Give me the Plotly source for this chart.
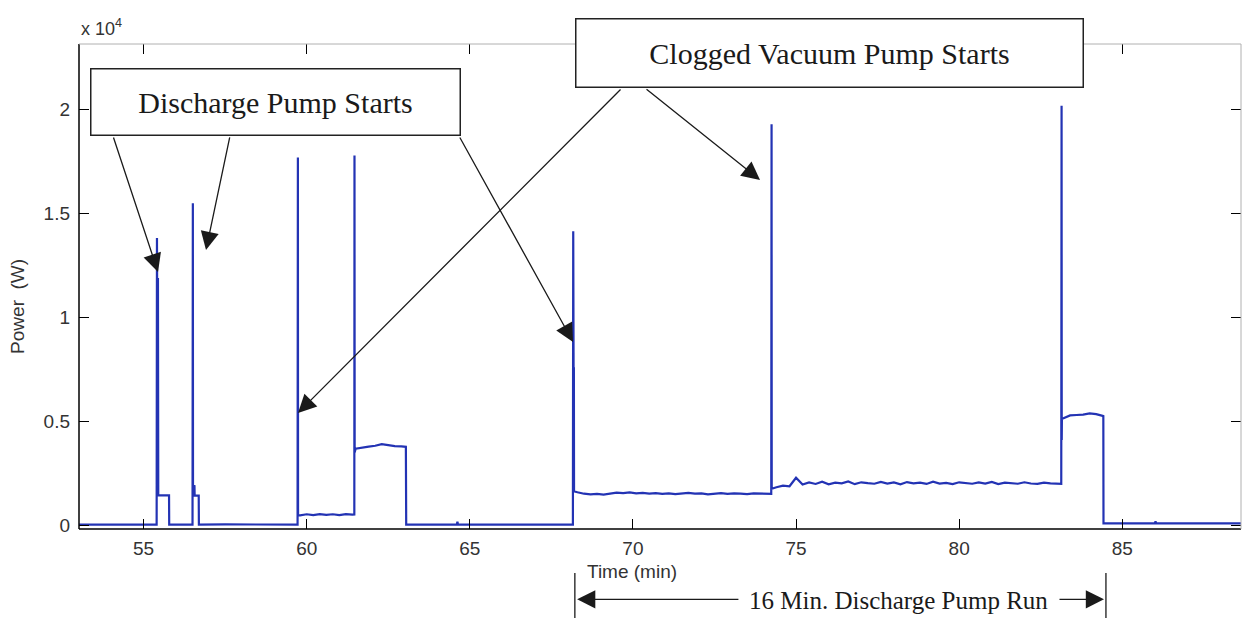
import plotly.graph_objects as go

# ---- measured power trace (time in minutes, power in watts) ----
start_t = [53.02, 55.40, 55.41, 55.415, 55.42, 55.425, 55.43, 55.435, 55.44, 55.445,
           55.45, 55.78, 55.785, 56.50, 56.51, 56.515, 56.56, 56.565, 56.69, 56.695,
           57.50, 59.72, 59.73, 59.735]
start_p = [20, 20, 13830, 1430, 12600, 1450, 12300, 1420, 11900, 1440,
           1430, 1430, 20, 20, 15500, 1900, 1880, 1420, 1420, 20,
           30, 20, 17700, 480]

low_run_t = [59.8, 60.0, 60.2, 60.4, 60.6, 60.8, 61.0, 61.2, 61.4, 61.46]
low_run_p = [470, 520, 480, 530, 490, 520, 480, 530, 500, 510]

mid_run_t = [61.465, 61.47, 61.5, 61.7, 61.9, 62.1, 62.3, 62.5, 62.7, 62.9, 63.04,
             63.05, 64.60, 64.62, 64.64, 68.16]
mid_run_p = [17800, 3500, 3680, 3740, 3780, 3820, 3900, 3850, 3800, 3790, 3770,
             20, 20, 160, 20, 20]

clog_start_t = [68.17, 68.175, 68.18, 68.185, 68.19, 68.195, 68.20, 68.205]
clog_start_p = [14150, 1600, 8300, 1650, 7600, 1600, 6900, 1620]

run_a_t = [68.3, 68.5, 68.7, 68.9, 69.1, 69.3, 69.5, 69.7, 69.9, 70.1,
           70.3, 70.5, 70.7, 70.9, 71.1, 71.3, 71.5, 71.7, 71.9, 72.1,
           72.3, 72.5, 72.7, 72.9, 73.1, 73.3, 73.5, 73.7, 73.9, 74.1, 74.24]
run_a_p = [1580, 1510, 1480, 1500, 1470, 1520, 1560, 1540, 1570, 1530,
           1550, 1510, 1540, 1500, 1530, 1490, 1520, 1550, 1510, 1530,
           1480, 1520, 1540, 1500, 1530, 1510, 1490, 1530, 1510, 1500, 1500]

run_b_t = [74.25, 74.255, 74.4, 74.6, 74.8, 75.0, 75.2, 75.4, 75.6, 75.8, 76.0,
           76.2, 76.4, 76.6, 76.8, 77.0, 77.2, 77.4, 77.6, 77.8, 78.0,
           78.2, 78.4, 78.6, 78.8, 79.0, 79.2, 79.4, 79.6, 79.8, 80.0,
           80.2, 80.4, 80.6, 80.8, 81.0, 81.2, 81.4, 81.6, 81.8, 82.0,
           82.2, 82.4, 82.6, 82.8, 83.0, 83.13]
run_b_p = [19300, 1750, 1820, 1900, 1870, 2280, 1950, 2050, 1980, 2090, 1960,
           2040, 2010, 2100, 1970, 2060, 2020, 1990, 2080, 2000, 2050,
           1960, 2070, 2010, 2040, 1980, 2090, 2000, 2030, 1970, 2060,
           2020, 1990, 2050, 2000, 2080, 1970, 2040, 2010, 1990, 2060,
           2000, 1980, 2040, 2010, 1990, 1980]

run_c_t = [83.14, 83.145, 83.15, 83.2, 83.4, 83.6, 83.8, 84.0, 84.2, 84.4, 84.42,
           84.425, 86.00, 86.02, 86.04, 88.64]
run_c_p = [20200, 4100, 5100, 5150, 5280, 5300, 5320, 5380, 5340, 5260, 5250,
           80, 80, 180, 80, 80]

time_min = start_t + low_run_t + mid_run_t + clog_start_t + run_a_t + run_b_t + run_c_t
power_w = start_p + low_run_p + mid_run_p + clog_start_p + run_a_p + run_b_p + run_c_p

x_ticks = [55, 60, 65, 70, 75, 80, 85]
y_ticks = [0, 5000, 10000, 15000, 20000]
y_tick_text = ["0", "0.5", "1", "1.5", "2"]

# discharge-pump run marked under the axis
run_start, run_end = 68.22, 84.50

fig = go.Figure()
fig.add_trace(go.Scatter(x=time_min, y=power_w, mode="lines",
                         line=dict(color="#2333b4", width=2.2),
                         hoverinfo="skip", showlegend=False))

tick_font = dict(family="Liberation Sans, Arial, sans-serif", size=19, color="#333333")
serif = "Liberation Serif, Times New Roman, serif"

fig.update_layout(
    width=1244, height=618,
    margin=dict(l=79, r=3, t=44, b=89),
    paper_bgcolor="white", plot_bgcolor="white",
    xaxis=dict(range=[53.02, 88.64], tickvals=x_ticks, ticks="inside", ticklen=10,
               tickcolor="black", tickwidth=1, mirror="ticks", showline=False,
               showgrid=False, zeroline=False, tickfont=tick_font,
               ticklabelstandoff=6),
    yaxis=dict(range=[-190, 23170], tickvals=y_ticks, ticktext=y_tick_text,
               ticks="inside", ticklen=10, tickcolor="black", tickwidth=1,
               mirror="ticks", showline=False, showgrid=False, zeroline=False,
               tickfont=tick_font, ticklabelstandoff=8),
)

# axes frame: dark bottom/left, faint top/right
fig.add_shape(type="line", xref="paper", yref="paper", x0=0, x1=1, y0=0, y1=0,
              line=dict(color="black", width=1.5))
fig.add_shape(type="line", xref="paper", yref="paper", x0=0, x1=0, y0=0, y1=1,
              line=dict(color="black", width=1.5))
fig.add_shape(type="line", xref="paper", yref="paper", x0=0, x1=1, y0=1, y1=1,
              line=dict(color="#b0b0b0", width=1))
fig.add_shape(type="line", xref="paper", yref="paper", x0=1, x1=1, y0=0, y1=1,
              line=dict(color="#b0b0b0", width=1))

# axis labels and exponent
fig.add_annotation(text="Time (min)", xref="paper", yref="paper", x=0.4755, y=-0.087,
                   showarrow=False, font=tick_font, yanchor="middle")
fig.add_annotation(text="Power\u00a0\u00a0(W)", xref="paper", yref="paper", x=-0.0525,
                   y=0.46, textangle=-90, showarrow=False, font=tick_font,
                   xanchor="center", yanchor="middle")
fig.add_annotation(text="x 10<sup>4</sup>", xref="paper", yref="paper", x=0.0, y=1.034,
                   showarrow=False, xanchor="left", yanchor="middle",
                   font=dict(family="Liberation Sans, Arial, sans-serif", size=18,
                             color="#333333"))

# callout arrows (head on the trace, tail on the label box)
arrow_style = dict(showarrow=True, arrowhead=2, arrowsize=2.8, arrowwidth=1.3,
                   arrowcolor="#1a1a1a", text="", xref="x", yref="y",
                   axref="x", ayref="y", standoff=0, startstandoff=0)
callouts = [
    (55.442, 12190, 54.062, 18740),
    (56.913, 13250, 57.649, 18740),
    (68.164, 8820, 64.669, 18740),
    (59.734, 5400, 69.666, 21050),
    (73.896, 16620, 70.371, 21050),
]
for hx, hy, tx, ty in callouts:
    fig.add_annotation(x=hx, y=hy, ax=tx, ay=ty, **arrow_style)

# label boxes
fig.add_annotation(text="Discharge Pump Starts", xref="paper", yref="paper",
                   x=0.0095, y=0.9505, xanchor="left", yanchor="top",
                   width=368, height=65, showarrow=False, bgcolor="white",
                   bordercolor="#222", borderwidth=1.5, borderpad=0, valign="middle",
                   font=dict(family=serif, size=30, color="#1a1a1a"))
fig.add_annotation(text="Clogged Vacuum Pump Starts", xref="paper", yref="paper",
                   x=0.4269, y=1.0536, xanchor="left", yanchor="top",
                   width=506, height=67, showarrow=False, bgcolor="white",
                   bordercolor="#222", borderwidth=1.5, borderpad=0, valign="middle",
                   font=dict(family=serif, size=30, color="#1a1a1a"))

# run-length dimension below the time axis
for t in (run_start, run_end):
    fig.add_shape(type="line", xref="x", yref="paper", x0=t, x1=t, y0=-0.0907,
                  y1=-0.19, line=dict(color="#1a1a1a", width=1.3))
dim_style = dict(y=-0.145, xref="x", yref="paper", axref="x", ayref="pixel", ay=0,
                 text="", showarrow=True, arrowhead=2, arrowsize=2.8, arrowwidth=1.3,
                 arrowcolor="#1a1a1a", standoff=0, startstandoff=0)
fig.add_annotation(x=run_start + 0.07, ax=73.28, **dim_style)
fig.add_annotation(x=run_end - 0.06, ax=83.03, **dim_style)
fig.add_annotation(text="16 Min. Discharge Pump Run", x=78.13, y=-0.147, xref="x",
                   yref="paper", showarrow=False, yanchor="middle",
                   font=dict(family=serif, size=25, color="#1a1a1a"))

fig.write_html("out.html")
